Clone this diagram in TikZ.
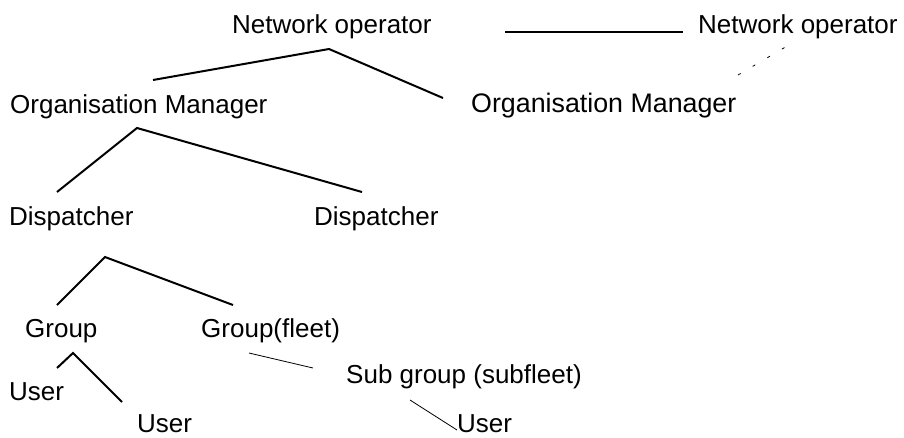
\documentclass[tikz,border=0pt]{standalone}
\usepackage{fontspec}
\setmainfont{Liberation Sans}
\begin{document}
\begin{tikzpicture}[x=1pt,y=-1pt,
  lbl/.style={anchor=base west,inner sep=0pt,font=\fontsize{26}{30}\selectfont},
  lblwide/.style={lbl,font=\fontsize{26.8}{31}\selectfont},
  heavy/.style={line width=2pt,line join=miter},
  light/.style={line width=0.8pt},
  faint/.style={line width=0.8pt,dashed,dash pattern=on 3pt off 14pt}]
\useasboundingbox (0,0) rectangle (904,437);

% labels
\node[lbl] (no1) at (232,33) {Network operator};
\node[lbl] (no2) at (698,33) {Network operator};
\node[lbl] (om1) at (10,113) {Organisation Manager};
\node[lblwide] (om2) at (471,112) {Organisation Manager};
\node[lbl] (d1) at (9,225) {Dispatcher};
\node[lbl] (d2) at (314,225) {Dispatcher};
\node[lbl] (g1) at (25,337) {Group};
\node[lbl] (g2) at (201,337) {Group(fleet)};
\node[lbl] (sg) at (346,383) {Sub group (subfleet)};
\node[lbl] (u1) at (9,400) {User};
\node[lbl] (u2) at (137,432) {User};
\node[lbl] (u3) at (457,432) {User};

% connector end points
\coordinate (noL) at (153,80);
\coordinate (noT) at (329,49);
\coordinate (noR) at (443,98);
\coordinate (omL) at (57,192);
\coordinate (omT) at (137,128);
\coordinate (omR) at (362,192);
\coordinate (dL) at (57,305);
\coordinate (dT) at (105,257);
\coordinate (dR) at (233,305);
\coordinate (gL) at (57,368);
\coordinate (gT) at (73,353);
\coordinate (gR) at (122,402);
\coordinate (gfA) at (249,353);
\coordinate (gfB) at (313,368);
\coordinate (sgA) at (410,400);
\coordinate (sgB) at (457,430);
\coordinate (hA) at (505,32);
\coordinate (hB) at (683,32);
\coordinate (dsA) at (738,75);
\coordinate (dsB) at (794,42);

% tree branches
\draw[heavy] (noL) -- (noT) -- (noR);
\draw[heavy] (omL) -- (omT) -- (omR);
\draw[heavy] (dL) -- (dT) -- (dR);
\draw[heavy] (gL) -- (gT) -- (gR);
\draw[light] (gfA) -- (gfB);
\draw[light] (sgA) -- (sgB);
\draw[heavy] (hA) -- (hB);
\draw[faint] (dsA) -- (dsB);
\end{tikzpicture}
\end{document}
